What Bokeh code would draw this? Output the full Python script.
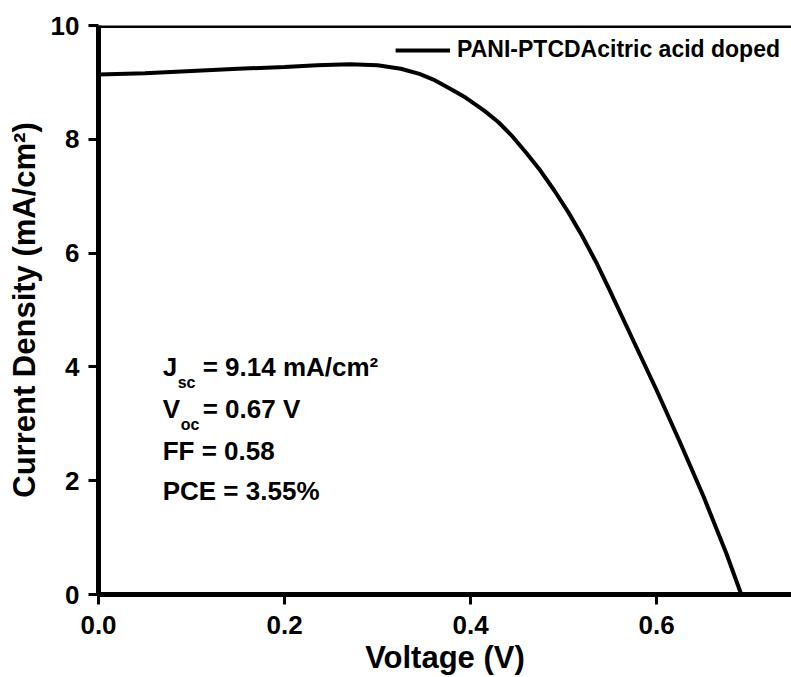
from bokeh.plotting import figure
from bokeh.models import Range1d, Label, Span, FixedTicker, Legend, LegendItem
from bokeh.embed import file_html
from bokeh.resources import INLINE

# J-V curve
voltage = [0.0, 0.05, 0.10, 0.15, 0.20, 0.235, 0.27, 0.30, 0.325, 0.345, 0.36,
           0.38, 0.395, 0.415, 0.43, 0.445, 0.46, 0.475, 0.49, 0.505, 0.52,
           0.535, 0.55, 0.575, 0.60, 0.625, 0.65, 0.675, 0.691]
current = [9.14, 9.16, 9.20, 9.24, 9.27, 9.30, 9.32, 9.30, 9.24, 9.15, 9.05,
           8.87, 8.73, 8.50, 8.30, 8.05, 7.76, 7.45, 7.10, 6.72, 6.30,
           5.84, 5.33, 4.46, 3.59, 2.68, 1.74, 0.72, 0.0]

x_ticks = [0.0, 0.2, 0.4, 0.6]
y_ticks = [0, 2, 4, 6, 8, 10]
series_name = "PANI-PTCDAcitric acid doped"
jsc_text = "= 9.14 mA/cm²"
voc_text = "= 0.67 V"
ff_text = "FF = 0.58"
pce_text = "PCE = 3.55%"

FONT = "Liberation Sans"

p = figure(width=791, height=677, output_backend="svg", toolbar_location=None,
           x_range=Range1d(0, 0.745), y_range=Range1d(0, 10),
           min_border_left=98, min_border_right=0, min_border_top=25, min_border_bottom=83)
p.outline_line_color = None
p.grid.visible = False
p.background_fill_color = "white"
p.border_fill_color = "white"

for ax in (p.xaxis[0], p.yaxis[0]):
    ax.axis_line_width = 5
    ax.axis_line_color = "black"
    ax.major_tick_line_width = 3
    ax.major_tick_line_color = "black"
    ax.major_tick_in = 0
    ax.major_tick_out = 10
    ax.minor_tick_line_color = None
    ax.major_label_text_font = FONT
    ax.major_label_text_font_style = "bold"
    ax.major_label_text_font_size = "26px"
    ax.major_label_text_color = "black"
    ax.axis_label_text_font = FONT
    ax.axis_label_text_font_style = "bold"
    ax.axis_label_text_font_size = "31px"
    ax.axis_label_text_color = "black"

p.xaxis.ticker = FixedTicker(ticks=x_ticks)
p.yaxis.ticker = FixedTicker(ticks=y_ticks)
p.xaxis.major_label_overrides = {t: f"{t:.1f}" for t in x_ticks}
p.xaxis.axis_label = "Voltage (V)"
p.yaxis.axis_label = "Current Density (mA/cm²)"
p.xaxis.major_label_standoff = 11
p.yaxis.major_label_standoff = 9
p.xaxis.axis_label_standoff = 3
p.yaxis.axis_label_standoff = 6

# top frame line
p.add_layout(Span(location=10, dimension="width", line_color="black", line_width=5))

r = p.line(voltage, current, line_color="black", line_width=4)

legend = Legend(items=[LegendItem(label=series_name, renderers=[r])],
                location="top_right", border_line_color=None, background_fill_alpha=0,
                label_text_font=FONT, label_text_font_style="bold",
                label_text_font_size="23px", label_text_color="black",
                glyph_width=55, glyph_height=20, label_height=20,
                label_standoff=7, margin=11, padding=4, spacing=0)
p.add_layout(legend)

# annotation block
ann_x = 0.069
lab_style = dict(text_font=FONT, text_font_style="bold", text_color="black",
                 x_units="data", y_units="data")
p.add_layout(Label(x=ann_x, y=3.74, text="J", text_font_size="26px", **lab_style))
p.add_layout(Label(x=ann_x, y=3.74, x_offset=15, y_offset=-9, text="sc",
                   text_font_size="16px", **lab_style))
p.add_layout(Label(x=ann_x, y=3.74, x_offset=40, text=jsc_text,
                   text_font_size="26px", **lab_style))
p.add_layout(Label(x=ann_x, y=2.99, text="V", text_font_size="26px", **lab_style))
p.add_layout(Label(x=ann_x, y=2.99, x_offset=18, y_offset=-9, text="oc",
                   text_font_size="16px", **lab_style))
p.add_layout(Label(x=ann_x, y=2.99, x_offset=40, text=voc_text,
                   text_font_size="26px", **lab_style))
p.add_layout(Label(x=ann_x, y=2.25, text=ff_text, text_font_size="26px", **lab_style))
p.add_layout(Label(x=ann_x, y=1.55, text=pce_text, text_font_size="26px", **lab_style))

open("out.html", "w").write(file_html(p, INLINE))
